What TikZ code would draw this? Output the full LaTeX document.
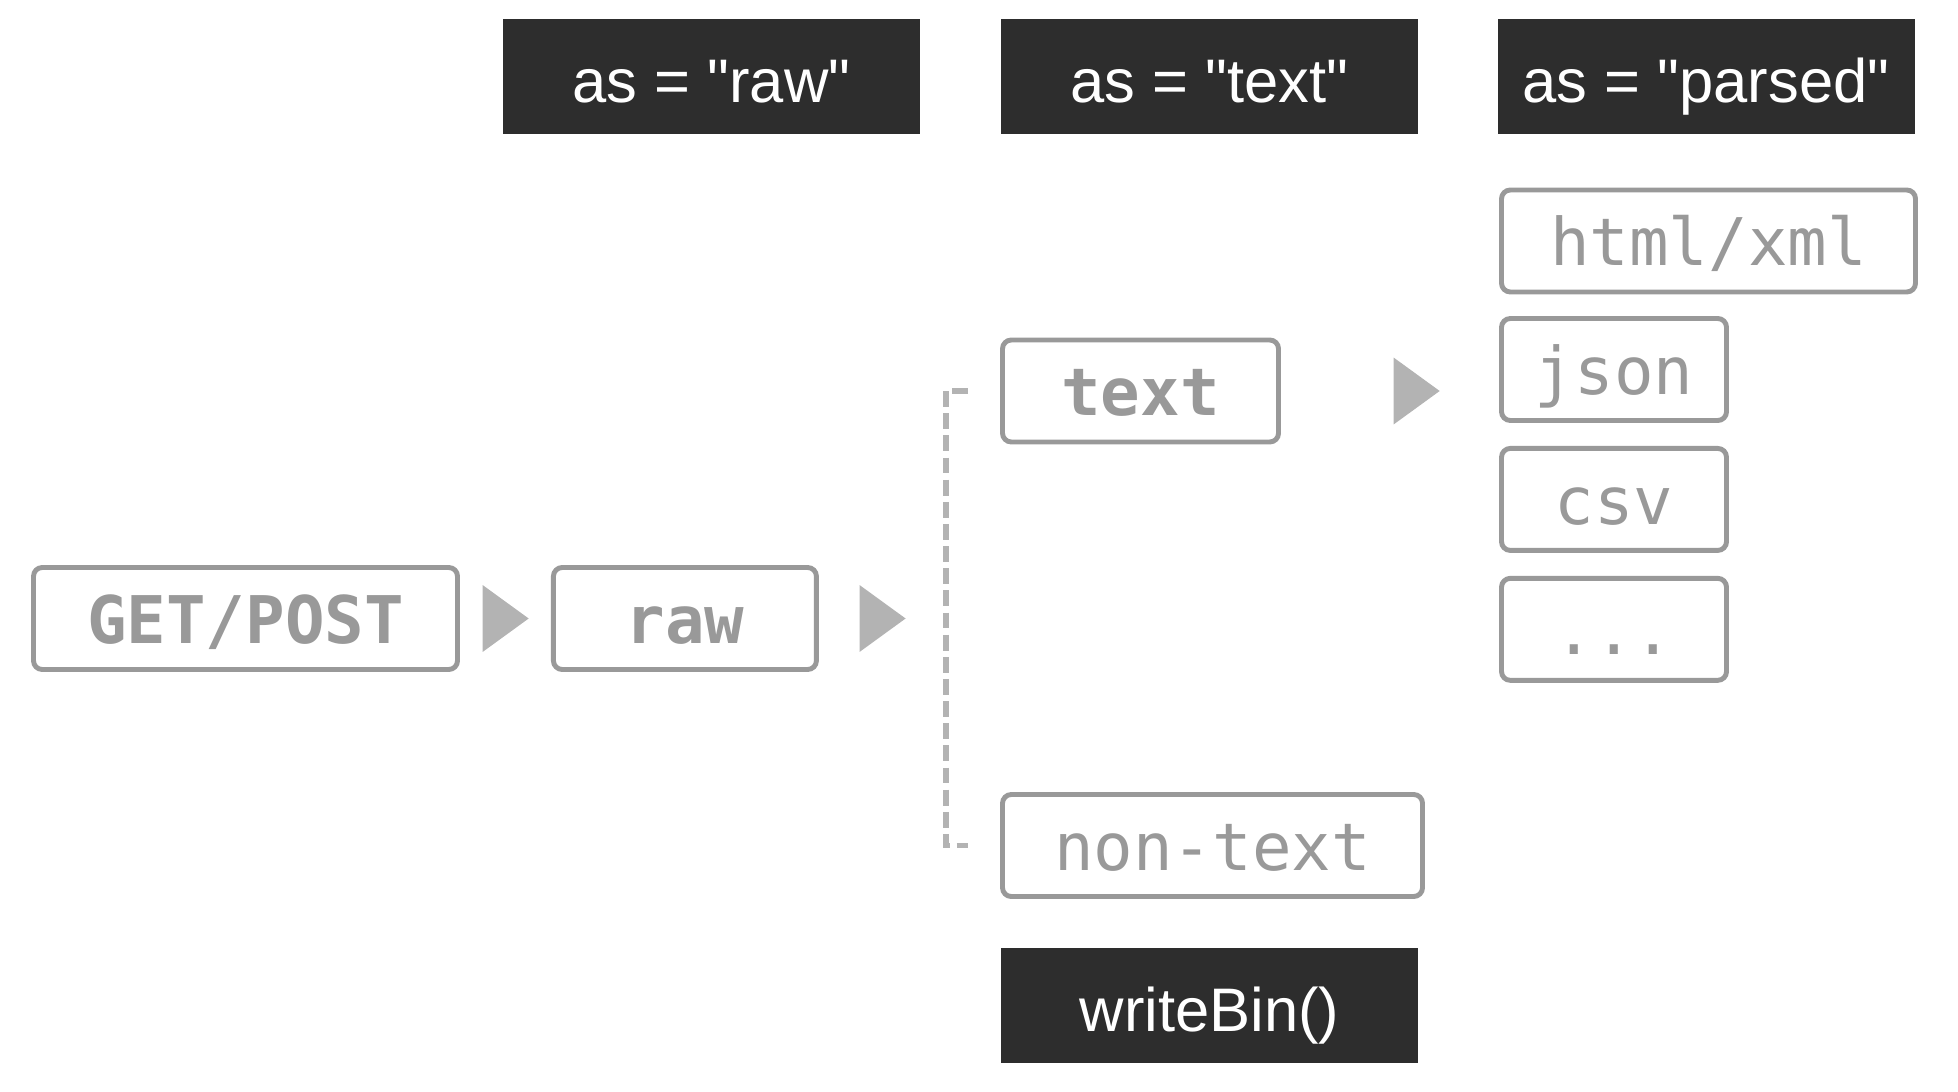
\documentclass[tikz,border=0pt]{standalone}
\usepackage{fontspec}
\setmainfont{Liberation Sans}
\setmonofont{DejaVu Sans Mono}
\usepackage{tikz}
\usetikzlibrary{shapes.geometric, positioning}

\definecolor{boxgray}{HTML}{999999}
\definecolor{triggray}{HTML}{B3B3B3}
\definecolor{headdark}{HTML}{2D2D2D}

\begin{document}
\begin{tikzpicture}[
  node distance=0.23cm,
  head/.style={rectangle, fill=headdark, text=white, inner sep=0pt,
               minimum width=4.17cm, minimum height=1.15cm,
               text height=0.52cm, text depth=0cm,
               font=\fontsize{17.5}{20}\selectfont},
  item/.style={rectangle, rounded corners=2.5pt, draw=boxgray, line width=1.4pt,
               text=boxgray, inner sep=0pt, minimum height=1.02cm,
               text height=0.5cm, text depth=0cm,
               font=\ttfamily\fontsize{18.7}{20}\selectfont},
  bolditem/.style={item, font=\ttfamily\bfseries\fontsize{18.7}{20}\selectfont},
  tri/.style={isosceles triangle, isosceles triangle apex angle=72, fill=triggray,
              inner sep=0pt, minimum height=0.46cm, minimum width=0.64cm},
  bracket/.style={draw=triggray, line width=1.6pt, dash pattern=on 4.5pt off 1.8pt},
]
  \useasboundingbox (0,0) rectangle (19.58,-10.92);

  % column heads
  \node[head] (hraw) at (7.115,-0.765) {as = \textquotedbl raw\textquotedbl};
  \node[head] (htext) at (12.095,-0.765) {as = \textquotedbl text\textquotedbl};
  \node[head] (hparsed) at (17.06,-0.765) {as = \textquotedbl parsed\textquotedbl};

  % request -> raw
  \node[bolditem, minimum width=4.24cm] (getpost) at (2.455,-6.185) {GET/POST};
  \node[tri, right=0.22cm of getpost] (t1) {};
  \node[bolditem, minimum width=2.63cm, right=0.91cm of getpost] (raw) {raw};
  \node[tri, right=0.40cm of raw] (t2) {};

  % text / non-text
  \node[bolditem, minimum width=2.76cm] (text) at (11.405,-3.91) {text};
  \node[item, minimum width=4.20cm] (nontext) at (12.125,-8.455) {non-text};
  \node[head] (wbin) at (12.095,-10.055) {writeBin()};
  \node[tri, right=1.12cm of text] (t3) {};

  % parsed formats
  \node[item, minimum width=4.14cm] (html) at (17.085,-2.41) {html/xml};
  \node[item, minimum width=2.25cm] (json) at (16.14,-3.695) {json};
  \node[item, minimum width=2.25cm, below=of json] (csv) {csv};
  \node[item, minimum width=2.25cm, below=of csv] (dots) {...};

  \draw[bracket] ([xshift=-0.32cm]text.west) -- ++(-0.22,0) |- ([xshift=-0.32cm]nontext.west);
\end{tikzpicture}
\end{document}
